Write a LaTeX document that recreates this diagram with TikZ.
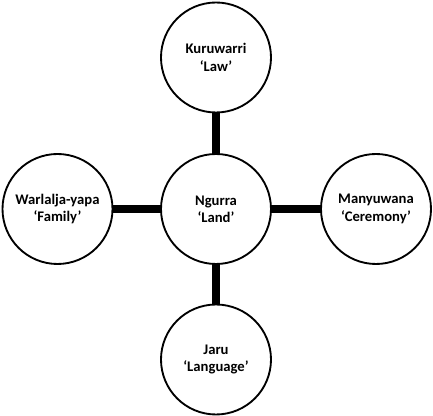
\documentclass[tikz,border=0pt]{standalone}
\usepackage{fontspec}
\setmainfont{Carlito}
\usepackage{tikz}
\usetikzlibrary{backgrounds}
\definecolor{tinta}{HTML}{000000}
\definecolor{fondo}{HTML}{FFFFFF}
\tikzset{
  circulo/.style={circle,draw=tinta,fill=fondo,line width=1.4pt,inner sep=0pt,minimum size=82.5pt,align=center,font=\fontsize{11}{13}\selectfont\bfseries},
  enlace/.style={draw=tinta,line width=6.5pt},
}

\begin{document}
\begin{tikzpicture}[x=0.75pt,y=-0.75pt]
\useasboundingbox (0,0) rectangle (433,416);
\node[circulo] (centro) at (216,209) {Ngurra\\‘Land’};
\node[circulo] (arriba) at (216,57.5) {Kuruwarri\\‘Law’};
\node[circulo] (abajo) at (216,359.5) {Jaru\\‘Language’};
\node[circulo] (izq) at (57.5,209) {Warlalja-yapa\\‘Family’};
\node[circulo] (der) at (376,209) {Manyuwana\\‘Ceremony’};
\begin{pgfonlayer}{background}
\draw[enlace] (centro.center) -- (arriba.center);
\draw[enlace] (centro.center) -- (abajo.center);
\draw[enlace] (centro.center) -- (izq.center);
\draw[enlace] (centro.center) -- (der.center);
\end{pgfonlayer}
\end{tikzpicture}
\end{document}
